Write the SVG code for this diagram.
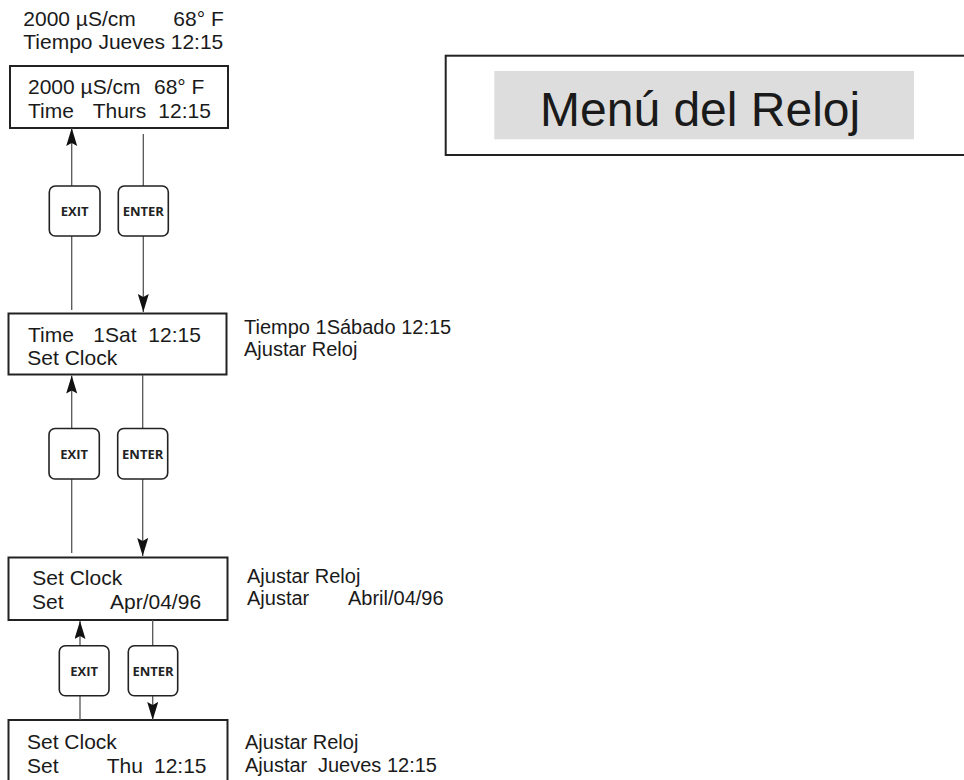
<svg xmlns="http://www.w3.org/2000/svg" width="964" height="780" viewBox="0 0 964 780">
<defs>
<marker id="ah" markerUnits="userSpaceOnUse" markerWidth="20" markerHeight="12" refX="18" refY="5.5" orient="auto">
<path d="M0,0 L18,5.5 L0,11 L3,5.5 z" fill="#111"/>
</marker>
<style>
.t{font-family:"Liberation Sans",Arial,sans-serif;font-size:21px;fill:#1a1a1a}
.l{font-family:"Liberation Sans",Arial,sans-serif;font-size:20px;fill:#1a1a1a}
.box{fill:#fff;stroke:#222;stroke-width:2}
.btn{fill:#fff;stroke:#222;stroke-width:1.6}
.bt{font-family:"Open Sans","DejaVu Sans",sans-serif;font-weight:bold;font-size:13px;fill:#222;text-anchor:middle}
.c{stroke:#555;stroke-width:1.3;fill:none}
.ca{stroke:#555;stroke-width:1.3;fill:none;marker-end:url(#ah)}
</style>
</defs>

<g id="title">
<rect x="445.7" y="55.7" width="530" height="99.3" fill="#fff" stroke="#222" stroke-width="2"/>
<rect x="494.3" y="71" width="419.7" height="68.3" fill="#dddddd"/>
<text x="540" y="126" font-family="'Liberation Sans',Arial,sans-serif" font-size="48" fill="#1a1a1a">Menú del Reloj</text>
</g>

<g id="label-top">
<text class="t" y="26"><tspan x="23.3">2000 µS/cm</tspan><tspan x="173.3">68° F</tspan></text>
<text class="t" x="23.3" y="49">Tiempo Jueves 12:15</text>
</g>

<g id="box1">
<rect class="box" x="10" y="66" width="218" height="62"/>
<text class="t" y="94"><tspan x="28">2000 µS/cm</tspan><tspan x="154">68° F</tspan></text>
<text class="t" y="118"><tspan x="28">Time</tspan><tspan x="92.7">Thurs</tspan><tspan x="158.3">12:15</tspan></text>
</g>

<g id="box2">
<rect class="box" x="8.5" y="313.5" width="218" height="61"/>
<text class="t" y="342"><tspan x="28">Time</tspan><tspan x="93.3">1Sat</tspan><tspan x="148.3">12:15</tspan></text>
<text class="t" x="27.3" y="365">Set Clock</text>
</g>
<g id="label2">
<text class="l" x="244" y="334">Tiempo 1Sábado 12:15</text>
<text class="l" x="244" y="356">Ajustar Reloj</text>
</g>

<g id="box3">
<rect class="box" x="8.5" y="557.5" width="219" height="62.5"/>
<text class="t" x="32.3" y="585">Set Clock</text>
<text class="t" y="609"><tspan x="32">Set</tspan><tspan x="110">Apr/04/96</tspan></text>
</g>
<g id="label3">
<text class="l" x="247" y="583">Ajustar Reloj</text>
<text class="l" y="605"><tspan x="247">Ajustar</tspan><tspan x="348">Abril/04/96</tspan></text>
</g>

<g id="box4">
<rect class="box" x="8.5" y="720" width="219" height="80"/>
<text class="t" x="27" y="749">Set Clock</text>
<text class="t" y="773"><tspan x="27">Set</tspan><tspan x="106.7">Thu</tspan><tspan x="154">12:15</tspan></text>
</g>
<g id="label4">
<text class="l" x="245" y="749">Ajustar Reloj</text>
<text class="l" y="772"><tspan x="245">Ajustar</tspan><tspan x="318">Jueves 12:15</tspan></text>
</g>

<g id="connectors">
<line class="ca" x1="71.7" y1="186" x2="71.7" y2="128"/>
<line class="c" x1="71.7" y1="236" x2="71.7" y2="310"/>
<line class="c" x1="143.3" y1="134" x2="143.3" y2="186"/>
<line class="ca" x1="143.3" y1="236" x2="143.3" y2="312"/>

<line class="ca" x1="71.7" y1="428.5" x2="71.7" y2="375.5"/>
<line class="c" x1="71.7" y1="479" x2="71.7" y2="553"/>
<line class="c" x1="142.7" y1="375" x2="142.7" y2="428.5"/>
<line class="ca" x1="142.7" y1="479" x2="142.7" y2="556"/>

<line class="ca" x1="80" y1="645.7" x2="80" y2="621"/>
<line class="c" x1="80" y1="695.7" x2="80" y2="720"/>
<line class="c" x1="152.7" y1="620" x2="152.7" y2="645.7"/>
<line class="ca" x1="152.7" y1="695.7" x2="152.7" y2="720"/>
</g>

<g id="btn-exit-1"><rect class="btn" x="49.3" y="186" width="50.7" height="50" rx="6"/><text class="bt" x="74.7" y="216">EXIT</text></g>
<g id="btn-enter-1"><rect class="btn" x="118.3" y="186" width="50" height="50" rx="6"/><text class="bt" x="143.3" y="216">ENTER</text></g>
<g id="btn-exit-2"><rect class="btn" x="49" y="428.5" width="50.3" height="50.5" rx="6"/><text class="bt" x="74.2" y="458.5">EXIT</text></g>
<g id="btn-enter-2"><rect class="btn" x="117.7" y="428.5" width="50" height="50.5" rx="6"/><text class="bt" x="142.7" y="458.5">ENTER</text></g>
<g id="btn-exit-3"><rect class="btn" x="59.3" y="645.7" width="49.7" height="50" rx="6"/><text class="bt" x="84.2" y="675.5">EXIT</text></g>
<g id="btn-enter-3"><rect class="btn" x="128.3" y="645.7" width="49.4" height="50" rx="6"/><text class="bt" x="153" y="675.5">ENTER</text></g>
</svg>
